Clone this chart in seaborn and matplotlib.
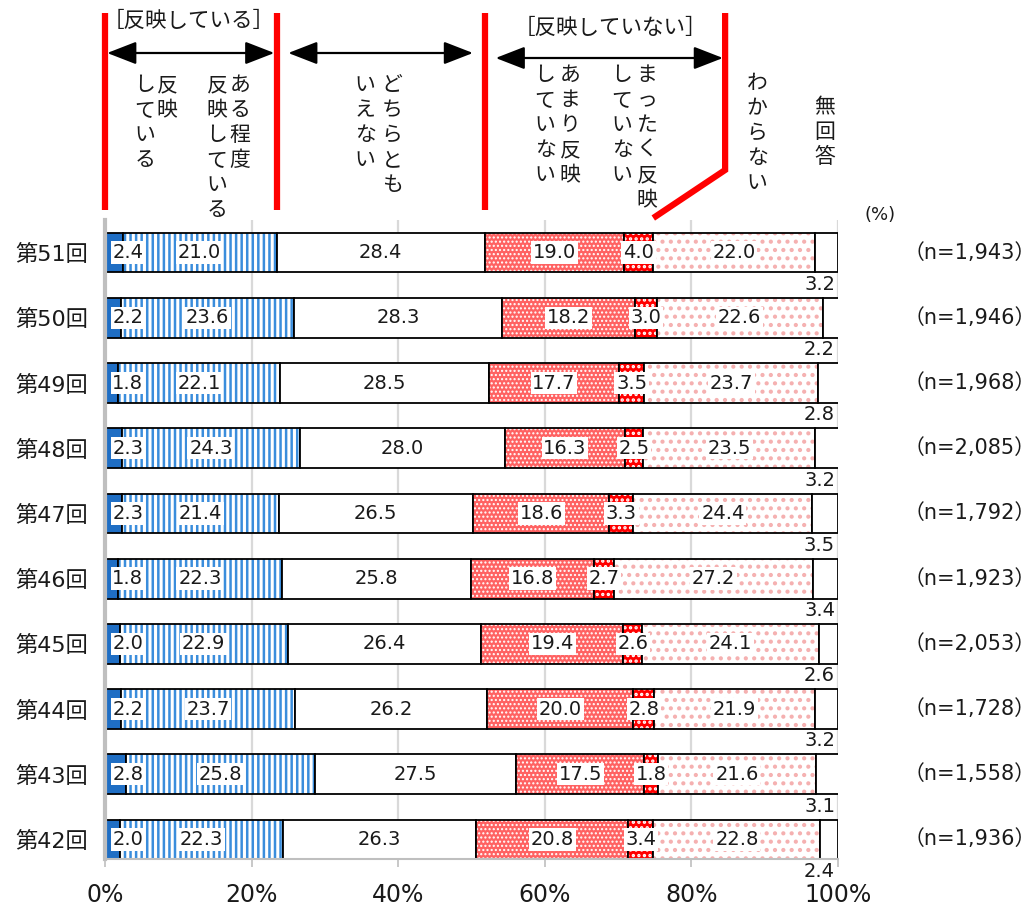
import numpy as np
import pandas as pd
import matplotlib
matplotlib.use("Agg")
import matplotlib.pyplot as plt
from matplotlib.lines import Line2D
from matplotlib.transforms import blended_transform_factory
import seaborn as sns

# ---- data -------------------------------------------------------------
rounds = ["第51回", "第50回", "第49回", "第48回", "第47回",
          "第46回", "第45回", "第44回", "第43回", "第42回"]
sample_sizes = ["1,943", "1,946", "1,968", "2,085", "1,792",
                "1,923", "2,053", "1,728", "1,558", "1,936"]

reflects = [2.4, 2.2, 1.8, 2.3, 2.3, 1.8, 2.0, 2.2, 2.8, 2.0]
somewhat_reflects = [21.0, 23.6, 22.1, 24.3, 21.4, 22.3, 22.9, 23.7, 25.8, 22.3]
neither = [28.4, 28.3, 28.5, 28.0, 26.5, 25.8, 26.4, 26.2, 27.5, 26.3]
not_much = [19.0, 18.2, 17.7, 16.3, 18.6, 16.8, 19.4, 20.0, 17.5, 20.8]
not_at_all = [4.0, 3.0, 3.5, 2.5, 3.3, 2.7, 2.6, 2.8, 1.8, 3.4]
dont_know = [22.0, 22.6, 23.7, 23.5, 24.4, 27.2, 24.1, 21.9, 21.6, 22.8]
no_answer = [3.2, 2.2, 2.8, 3.2, 3.5, 3.4, 2.6, 3.2, 3.1, 2.4]

tick_values = [0, 20, 40, 60, 80, 100]
tick_labels = ["0%", "20%", "40%", "60%", "80%", "100%"]

segment_names = ["反映している", "ある程度反映している", "どちらともいえない",
                 "あまり反映していない", "まったく反映していない", "わからない", "無回答"]
segments = [reflects, somewhat_reflects, neither, not_much,
            not_at_all, dont_know, no_answer]

df = pd.DataFrame({"round": rounds})
for name, vals in zip(segment_names, segments):
    df[name] = vals

# fill style per segment: face colour, hatch, hatch colour, hatch line width
styles = [
    dict(face="#1F6EC4", hatch=None, hcolor=None, hlw=1.0),
    dict(face="white", hatch="|||", hcolor="#3A8DDC", hlw=1.8),
    dict(face="white", hatch=None, hcolor=None, hlw=1.0),
    dict(face="#FF6262", hatch="....", hcolor="white", hlw=1.0),
    dict(face="#FF0000", hatch="...", hcolor="white", hlw=1.6),
    dict(face="white", hatch="..", hcolor="#F5B0B0", hlw=1.8),
    dict(face="white", hatch=None, hcolor=None, hlw=1.0),
]

# ---- figure -----------------------------------------------------------
sns.set_theme(style="white")
plt.rcParams["font.family"] = ["Noto Sans CJK JP", "DejaVu Sans"]
plt.rcParams["hatch.linewidth"] = 1.6

W, H = 1035, 908
fig = plt.figure(figsize=(W / 100, H / 100), dpi=100)
ax = fig.add_axes([105 / W, 1 - 859 / H, 733 / W, 639 / H])

num_family = ["DejaVu Sans", "Noto Sans CJK JP"]
text_color = "#1a1a1a"
bar_h = 0.61

cum = np.zeros(len(rounds))
for name, st in zip(segment_names, styles):
    before = len(ax.patches)
    sns.barplot(data=df, x=name, y="round", orient="h", left=cum.copy(),
                width=bar_h, color=st["face"], facecolor=st["face"],
                edgecolor=st["hcolor"] if st["hatch"] else st["face"],
                hatch=st["hatch"], linewidth=0, errorbar=None, ax=ax)
    for p in ax.patches[before:]:
        if hasattr(p, "set_hatch_linewidth"):
            p.set_hatch_linewidth(st["hlw"])
    # black outline on top
    sns.barplot(data=df, x=name, y="round", orient="h", left=cum.copy(),
                width=bar_h, color="black", facecolor="none", edgecolor="black",
                linewidth=1.3, errorbar=None, ax=ax)
    cum = cum + np.array(df[name])

ax.set_xlim(0, 100)
ax.set_ylim(9.3, -0.5)
ax.set_xlabel("")
ax.set_ylabel("")
ax.set_xticks(tick_values)
ax.set_xticklabels(tick_labels, fontsize=17, family=num_family, color=text_color)
ax.set_yticks(range(len(rounds)))
ax.set_yticklabels(rounds, fontsize=16, family=num_family, color=text_color)
ax.tick_params(axis="x", length=6, width=1.2, color="#BFBFBF", pad=11, bottom=True)
ax.tick_params(axis="y", length=0, pad=12)
ax.xaxis.grid(True, color="#D9D9D9", linewidth=1.6)
ax.set_axisbelow(True)
for side in ["top", "right"]:
    ax.spines[side].set_visible(False)
ax.spines["left"].set_color("#BFBFBF")
ax.spines["left"].set_linewidth(3)
ax.spines["bottom"].set_color("#BFBFBF")
ax.spines["bottom"].set_linewidth(1.5)

# ---- value labels -----------------------------------------------------
box = dict(facecolor="white", edgecolor="none", pad=1.2)
for r in range(len(rounds)):
    start = 0.0
    for i, vals in enumerate(segments):
        v = vals[r]
        label = f"{v:.1f}"
        if i == 0:
            ax.text(1.0, r, label, ha="left", va="center", fontsize=14,
                    family=num_family, color=text_color, bbox=box, zorder=5)
        elif i == len(segments) - 1:
            ax.text(99.6, r + 0.49, label, ha="right", va="center", fontsize=14,
                    family=num_family, color=text_color, zorder=5)
        else:
            ax.text(start + v / 2, r, label, ha="center", va="center", fontsize=14,
                    family=num_family, color=text_color, bbox=box, zorder=5)
        start += v

# sample sizes at the right
row_tr = blended_transform_factory(fig.transFigure, ax.transData)
for r, n in enumerate(sample_sizes):
    ax.text(970 / W, r, f"（n={n}）", transform=row_tr, ha="center", va="center",
            fontsize=15, family=num_family, color=text_color)
fig.text(880 / W, 1 - 215 / H, "(%)", ha="center", va="center", fontsize=13,
         family=num_family, color=text_color)

# ---- header: group brackets, arrows and vertical captions --------------
hdr = blended_transform_factory(ax.transData, fig.transFigure)
first = np.cumsum([s[0] for s in segments])
b1, b2, b_na = first[1], first[2], first[4]
b_right = 84.6


def fy(py):
    return 1 - py / H


red = "#FF0000"
for xb in [0.0, b1, b2]:
    fig.add_artist(Line2D([xb, xb], [fy(13), fy(210)], transform=hdr,
                          color=red, linewidth=4.5, solid_capstyle="butt"))
fig.add_artist(Line2D([b_right, b_right, b_na], [fy(13), fy(170), fy(218)],
                      transform=hdr, color=red, linewidth=4.5,
                      solid_capstyle="butt", solid_joinstyle="miter"))

arrow_kw = dict(arrowstyle="<|-|>,head_length=0.9,head_width=0.35", color="black",
                lw=1.6, mutation_scale=20, shrinkA=0, shrinkB=0)
for x0, x1, py in [(0.3, b1 - 0.3, 53), (b1 + 1.6, b2 - 1.6, 53),
                   (b2 + 1.5, b_right - 0.3, 58)]:
    ax.annotate("", xy=(x1, fy(py)), xytext=(x0, fy(py)), xycoords=hdr,
                textcoords=hdr, arrowprops=arrow_kw, annotation_clip=False)

fig.text(189 / W, fy(21), "［反映している］", ha="center", va="center",
         fontsize=15.5, color=text_color)
fig.text(610 / W, fy(28), "［反映していない］", ha="center", va="center",
         fontsize=15.5, color=text_color)


def vertical(text, px, py0, step=25):
    for k, ch in enumerate(text):
        fig.text(px / W, fy(py0 + k * step), ch, ha="center", va="center",
                 fontsize=15, color=text_color)


vertical("反映", 167, 85)
vertical("している", 145, 85)
vertical("ある程度", 240, 85)
vertical("反映している", 217, 85)
vertical("どちらとも", 392, 85)
vertical("いえない", 365, 85)
vertical("あまり反映", 570, 75)
vertical("していない", 545, 75)
vertical("まったく反映", 647, 75)
vertical("していない", 622, 75)
vertical("わからない", 757, 83)
vertical("無回答", 825, 107)

fig.savefig("out.png", dpi=100)
